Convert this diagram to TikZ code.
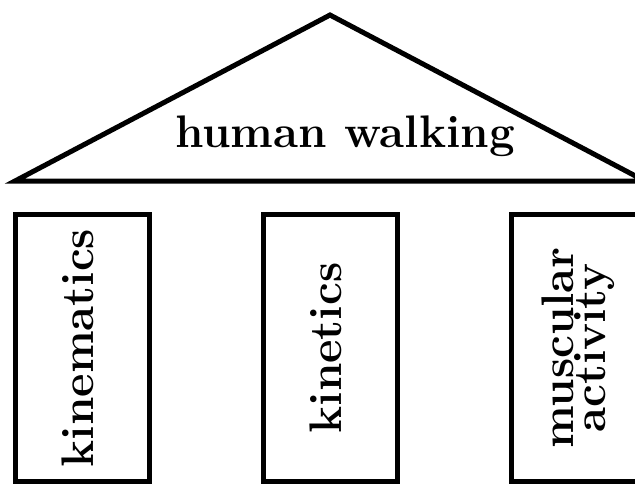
\documentclass[tikz,border=0pt]{standalone}
\usepackage{tikz}
\newcommand{\bigbold}{\fontsize{21.4pt}{15pt}\selectfont\bfseries}
\tikzset{pillar/.style={draw, line width=2.35pt, rotate=90, minimum width=124.8pt, minimum height=63.3pt, inner sep=0pt, font=\bigbold, align=center}}

\begin{document}
\begin{tikzpicture}[x=0.469pt, y=-0.469pt]
    \useasboundingbox (0,0) rectangle (635,484);
    % roof
    \coordinate (L) at (15,181);
    \coordinate (T) at (330,15);
    \coordinate (R) at (645,181);
    \draw[line width=2.35pt] (L) -- (T) -- (R) -- cycle;
    \node[font=\bigbold, anchor=base] at (345,147) (roof) {human walking};

    % pillars
    \node[pillar, text depth=5pt] at (82.5,348) (kin) {kinematics};
    \node[pillar, text depth=5pt] at (330.5,348) (kinet) {kinetics};
    \node[pillar] at (578.5,348) (musc) {muscular\\activity};
\end{tikzpicture}
\end{document}
